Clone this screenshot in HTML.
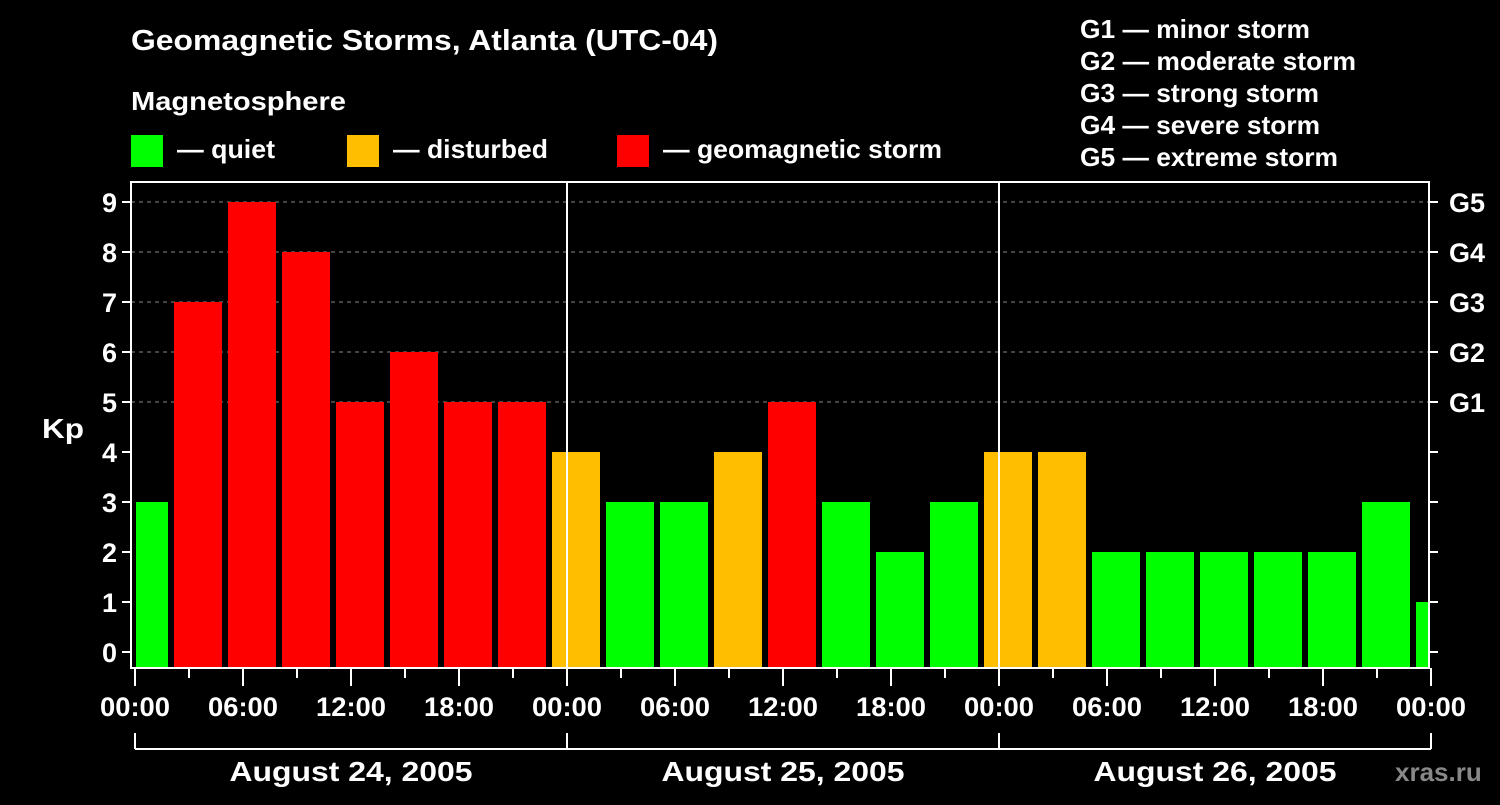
<!DOCTYPE html>
<html><head><meta charset="utf-8"><style>
body{margin:0;background:#000;}
svg text{font-family:"Liberation Sans",Arial,sans-serif;font-weight:bold;fill:#fff;}
</style></head><body>
<svg id="chart" width="1500" height="800" xmlns="http://www.w3.org/2000/svg">
<rect width="1500" height="800" fill="#000"/>
<text x="131" y="50" font-size="29" textLength="587" lengthAdjust="spacingAndGlyphs">Geomagnetic Storms, Atlanta (UTC-04)</text>
<text x="131" y="110" font-size="26" textLength="215" lengthAdjust="spacingAndGlyphs">Magnetosphere</text>
<g font-size="26">
<rect x="131" y="135" width="32" height="32" fill="#00ff00"/>
<text x="177" y="158" textLength="98" lengthAdjust="spacingAndGlyphs">— quiet</text>
<rect x="347" y="135" width="32" height="32" fill="#ffbf00"/>
<text x="393" y="158" textLength="155" lengthAdjust="spacingAndGlyphs">— disturbed</text>
<rect x="617" y="135" width="32" height="32" fill="#ff0000"/>
<text x="663" y="158" textLength="279" lengthAdjust="spacingAndGlyphs">— geomagnetic storm</text>
</g>
<g font-size="26">
<text x="1080" y="38" textLength="230" lengthAdjust="spacingAndGlyphs">G1 — minor storm</text>
<text x="1080" y="70" textLength="276" lengthAdjust="spacingAndGlyphs">G2 — moderate storm</text>
<text x="1080" y="102" textLength="239" lengthAdjust="spacingAndGlyphs">G3 — strong storm</text>
<text x="1080" y="134" textLength="240" lengthAdjust="spacingAndGlyphs">G4 — severe storm</text>
<text x="1080" y="166" textLength="258" lengthAdjust="spacingAndGlyphs">G5 — extreme storm</text>
</g>
<g id="plot"></g>
<text x="42" y="438" font-size="28" textLength="42" lengthAdjust="spacingAndGlyphs">Kp</text>
<text x="1395" y="781" font-size="26" style="fill:#888">xras.ru</text>
</svg>
<script>
const kpValues=[3,7,9,8,5,6,5,5,4,3,3,4,5,3,2,3,4,4,2,2,2,2,2,3,1];
const yTicks=[0,1,2,3,4,5,6,7,8,9];
const gLabels=["G1","G2","G3","G4","G5"];
const dayLabels=["August 24, 2005","August 25, 2005","August 26, 2005"];
const hourLabels=["00:00","06:00","12:00","18:00"];
const NS="http://www.w3.org/2000/svg";
const plot=document.getElementById('plot');
const L=131,R=1429,T=182,B=668,x0=135,pxH=18,firstBinHour=-1;
const y=v=>652-v*50;
const x=h=>x0+h*pxH;
function mk(t,a){const e=document.createElementNS(NS,t);for(const k in a)e.setAttribute(k,a[k]);plot.appendChild(e);return e;}
for(let v=5;v<=9;v++){const e=mk('line',{x1:L,x2:R,y1:y(v),y2:y(v),stroke:'#888','stroke-dasharray':'4,4'});

}
const clip=mk('clipPath',{id:'pc'});const cr=document.createElementNS(NS,'rect');
cr.setAttribute('x',L+5);cr.setAttribute('y',T);cr.setAttribute('width',R-L-6);cr.setAttribute('height',B-T);clip.appendChild(cr);
kpValues.forEach((v,i)=>{const h0=firstBinHour+i*3;
const col=v>=5?'#ff0000':(v>=4?'#ffbf00':'#00ff00');
const e=mk('rect',{x:x(h0)+3,y:y(v),width:48,height:667-y(v),fill:col,'clip-path':'url(#pc)'});

});
for(let d=1;d<3;d++){const e=mk('line',{x1:x(d*24),x2:x(d*24),y1:T,y2:B,stroke:'#fff','stroke-width':2});

}
const bd=mk('rect',{x:L,y:T,width:R-L,height:B-T,fill:'none',stroke:'#fff','stroke-width':2});


yTicks.forEach(v=>{mk('line',{x1:122,x2:L,y1:y(v),y2:y(v),stroke:'#fff','stroke-width':2});
mk('line',{x1:R,x2:R+9,y1:y(v),y2:y(v),stroke:'#fff','stroke-width':2});
const t=mk('text',{x:117,y:y(v)+10,'font-size':27,'text-anchor':'end'});t.textContent=v;

});
gLabels.forEach((g,i)=>{const t=mk('text',{x:1449,y:y(5+i)+10,'font-size':27});t.textContent=g;

});
for(let h=0;h<=72;h+=3){const major=h%6===0;mk('line',{x1:x(h),x2:x(h),y1:B,y2:major?686:678,stroke:'#fff','stroke-width':2});
if(major){const t=mk('text',{x:x(h),y:716,'font-size':27,'text-anchor':'middle','textLength':70,'lengthAdjust':'spacingAndGlyphs'});t.textContent=hourLabels[(h/6)%4];

}}
mk('line',{x1:x(0),x2:x(72),y1:749,y2:749,stroke:'#fff','stroke-width':2});
for(let d=0;d<=3;d++)mk('line',{x1:x(d*24),x2:x(d*24),y1:733,y2:749,stroke:'#fff','stroke-width':2});
dayLabels.forEach((s,d)=>{const t=mk('text',{x:x(d*24+12),y:781,'font-size':28,'text-anchor':'middle','textLength':243,'lengthAdjust':'spacingAndGlyphs'});t.textContent=s;

});
</script>
</body></html>
